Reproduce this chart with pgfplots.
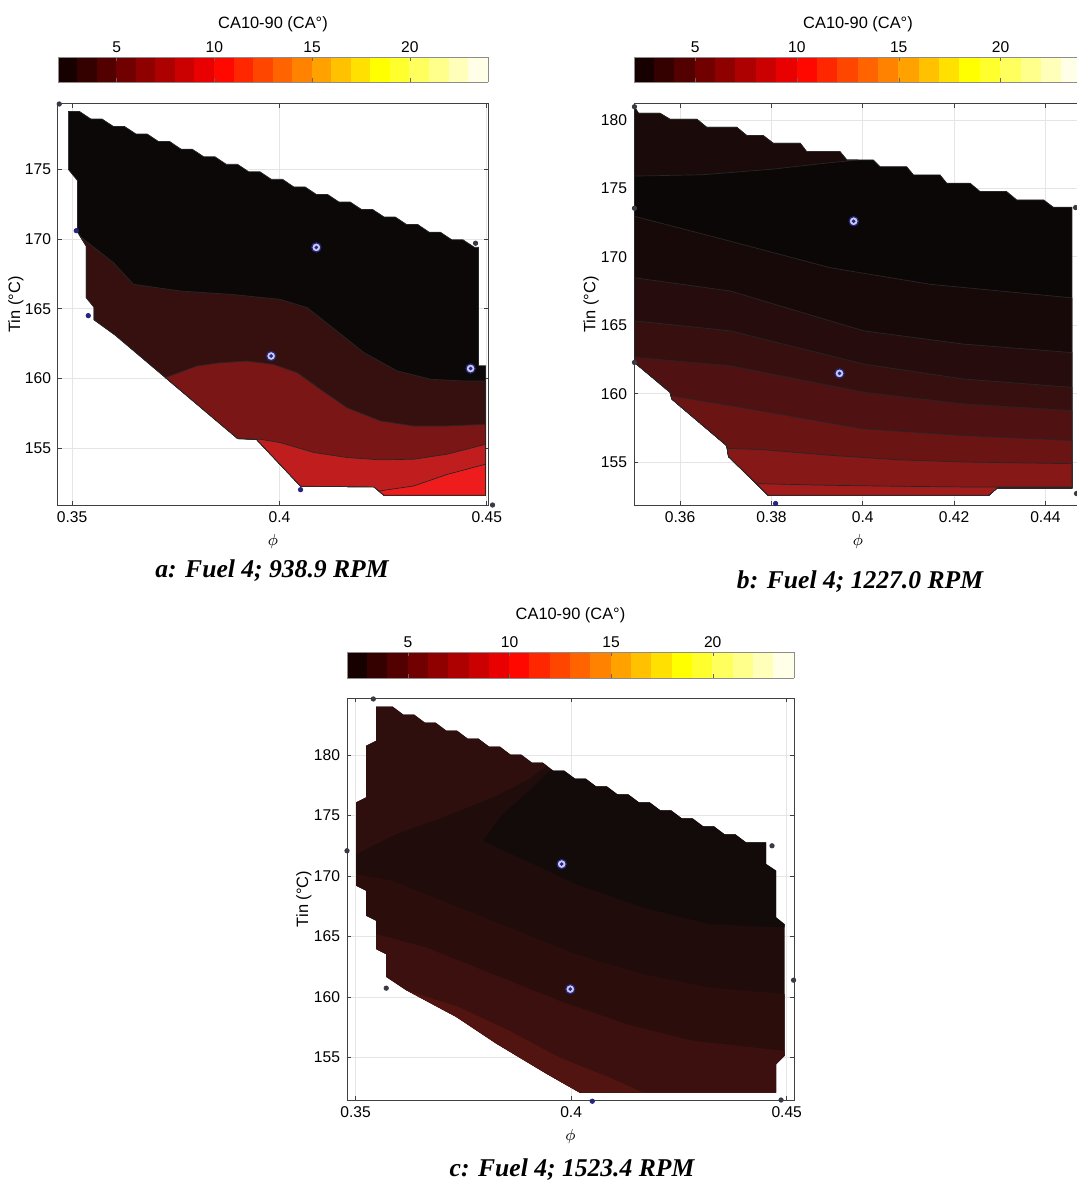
\documentclass[border=0pt]{standalone}
\usepackage{fontspec}
\setmainfont{Liberation Sans}
\newfontfamily\capfont{Liberation Serif}
\usepackage{pgfplots}
\pgfplotsset{compat=1.18}
\pgfplotsset{colormap={mhot}{rgb255(0cm)=(8,0,0); rgb255(3cm)=(255,0,0); rgb255(6cm)=(255,255,0); rgb255(8cm)=(255,255,255)}}
% panel a colours
\definecolor{aK}{HTML}{0C0808}
\definecolor{aA}{HTML}{35100F}
\definecolor{aB}{HTML}{7A1616}
\definecolor{aC}{HTML}{C01E1E}
\definecolor{aD}{HTML}{EE1C1C}
% panel b colours
\definecolor{bK}{HTML}{0B0707}
\definecolor{bT}{HTML}{1A0B0A}
\definecolor{b1}{HTML}{180909}
\definecolor{b2}{HTML}{260C0C}
\definecolor{b3}{HTML}{380F0F}
\definecolor{b4}{HTML}{4F1111}
\definecolor{b5}{HTML}{6A1414}
\definecolor{b6}{HTML}{861818}
\definecolor{b7}{HTML}{A31C1C}
% panel c colours
\definecolor{cM}{HTML}{1F0C0B}
\definecolor{cK}{HTML}{130A0A}
\definecolor{cP}{HTML}{2E0F0D}
\definecolor{c2}{HTML}{2B0D0C}
\definecolor{c3}{HTML}{3B100E}
\definecolor{c4}{HTML}{521410}
% markers
\definecolor{ptblue}{HTML}{26267E}
\definecolor{ptgray}{HTML}{3A3A44}
\definecolor{ptring}{HTML}{CACAEE}
\pgfplotsset{
 panel/.style={
  scale only axis, anchor=north west, clip=false,
  axis line style={draw=black!75, line width=0.5pt},
  tick style={draw=black!75, line width=0.4pt},
  tick align=inside, major tick length=2.2pt,
  xmajorgrids, ymajorgrids,
  major grid style={draw=black!10, line width=0.35pt},
  tick label style={font=\fontsize{7.8}{9}\selectfont},
  label style={font=\fontsize{8.2}{10}\selectfont},
  xlabel={$\phi$}, ylabel={Tin (°C)},
  /pgf/number format/assume math mode=true,
  colorbar horizontal, colormap name=mhot,
  point meta min=2, point meta max=24, colorbar sampled,
 },
 cb/.style n args={3}{colorbar style={
  scale only axis, height=#1,
  at={(parent axis.north west)}, anchor=south west, yshift=#2,
  xtick={5,10,15,20}, xticklabel pos=upper,
  xticklabel style={font=\fontsize{7.8}{9}\selectfont, yshift=-1.5pt},
  xlabel={CA10-90 (CA°)},
  xlabel style={font=\fontsize{8.2}{10}\selectfont, at={(axis description cs:0.5,1)}, anchor=center, yshift=#3},
  axis line style={draw=black!45},
  tick style={draw=black!60},
  major tick length=1.8pt, tick align=inside,
  samples=23,
  /pgf/number format/assume math mode=true,
 }},
 cline/.style={draw=black!85, line width=0.35pt},
 dotb/.style={only marks, mark=*, mark size=1.1pt, mark options={draw=ptblue, fill=ptblue}},
 dotg/.style={only marks, mark=*, mark size=1.1pt, mark options={draw=ptgray, fill=ptgray}},
 ring/.style={only marks, mark=*, mark size=2.3pt, mark options={draw=ptblue, fill=ptring, line width=0.6pt}},
 ringc/.style={only marks, mark=*, mark size=0.7pt, mark options={draw=ptblue, fill=ptblue}},
}
\begin{document}
\begin{tikzpicture}
\useasboundingbox (0pt,0pt) rectangle (538pt,-590.5pt);
% ---------------- panel a ----------------
\begin{axis}[panel, at={(29pt,-52pt)}, width=215pt, height=200.5pt,
 xmin=0.3466, xmax=0.4503, ymin=150.9, ymax=179.7,
 xtick={0.35,0.4,0.45}, xticklabels={0.35,0.4,0.45}, ytick={155,160,165,170,175},
 xlabel style={at={(axis description cs:0.5,-0.092)}, anchor=center},
 ylabel style={at={(axis description cs:-0.0977,0.5)}, anchor=center},
 cb={12.5pt}{19.5pt}{16.5pt}]
\addplot[fill=aK, cline] coordinates {
(0.3491,179.16) (0.3518,179.16) (0.35454,178.62) (0.35724,178.62) (0.35998,178.08) (0.36268,178.08)
(0.36542,177.54) (0.36812,177.54) (0.37086,177.00) (0.37356,177.00) (0.37630,176.45) (0.37900,176.45)
(0.38174,175.91) (0.38444,175.91) (0.38717,175.37) (0.38987,175.37) (0.39261,174.83) (0.39531,174.83)
(0.39805,174.29) (0.40075,174.29) (0.40349,173.74) (0.40619,173.74) (0.40893,173.20) (0.41163,173.20)
(0.41437,172.66) (0.41707,172.66) (0.41981,172.12) (0.42251,172.12) (0.42525,171.58) (0.42795,171.58)
(0.43069,171.04) (0.43339,171.04) (0.43612,170.49) (0.43882,170.49) (0.44156,169.95) (0.44426,169.95)
(0.44700,169.41) (0.4480,169.41) (0.4480,160.9) (0.4497,160.9) (0.4497,151.6) (0.4252,151.6)
(0.4228,152.2) (0.4051,152.25) (0.3945,155.6) (0.3898,155.7) (0.3604,163.1) (0.3553,164.2)
(0.3553,165.1) (0.3534,165.8) (0.3534,169.5) (0.3513,170.5) (0.3513,174.2) (0.3491,175.0)} -- cycle;
\addplot[fill=aA, cline] coordinates {
(0.3520,170.17) (0.3600,168.3) (0.3648,166.75) (0.3761,166.27) (0.3882,166.03) (0.4002,165.67)
(0.4067,165.07) (0.4123,163.76) (0.4204,161.84) (0.4284,160.53) (0.4365,159.93) (0.4450,159.8)
(0.4497,159.8) (0.4497,151.6) (0.4252,151.6) (0.4228,152.2) (0.4051,152.25) (0.3945,155.6)
(0.3898,155.7) (0.3604,163.1) (0.3553,164.2) (0.3553,165.1) (0.3534,165.8) (0.3534,169.5)} -- cycle;
\addplot[fill=aB, cline] coordinates {
(0.3725,160.05) (0.3801,160.89) (0.3857,161.12) (0.3922,161.24) (0.3986,161.0) (0.4043,160.41)
(0.4099,159.21) (0.4163,157.89) (0.4244,156.94) (0.4324,156.58) (0.4405,156.58) (0.4497,156.7)
(0.4497,151.6) (0.4252,151.6) (0.4228,152.2) (0.4051,152.25) (0.3945,155.6) (0.3898,155.7)} -- cycle;
\addplot[fill=aC, cline] coordinates {
(0.3900,155.65) (0.3954,155.62) (0.4002,155.38) (0.4083,154.67) (0.4163,154.31) (0.4244,154.14)
(0.4324,154.19) (0.4405,154.55) (0.4497,155.26) (0.4497,151.6) (0.4252,151.6) (0.4228,152.2)
(0.4051,152.25) (0.3945,155.6)} -- cycle;
\addplot[fill=aD, cline] coordinates {
(0.4240,151.9) (0.4324,152.27) (0.4405,153.1) (0.4497,153.83) (0.4497,151.6) (0.4252,151.6)} -- cycle;
\addplot[dotb] coordinates {(0.3510,170.6) (0.3539,164.5) (0.4051,152.0)};
\addplot[dotg] coordinates {(0.3469,179.7) (0.4473,169.7) (0.4514,150.9)};
\addplot[ring] coordinates {(0.4089,169.4) (0.3980,161.6) (0.4461,160.7)};
\addplot[ringc] coordinates {(0.4089,169.4) (0.3980,161.6) (0.4461,160.7)};
\end{axis}
% ---------------- panel b ----------------
\begin{axis}[panel, at={(317pt,-52pt)}, width=224pt, height=200.5pt,
 xmin=0.3499, xmax=0.4480, ymin=151.86, ymax=181.17,
 xtick={0.36,0.38,0.4,0.42,0.44}, xticklabels={0.36,0.38,0.4,0.42,0.44}, ytick={155,160,165,170,175,180},
 xlabel style={at={(axis description cs:0.5,-0.092)}, anchor=center},
 ylabel style={at={(axis description cs:-0.096,0.5)}, anchor=center},
 cb={12.5pt}{19.5pt}{16.5pt}]
\addplot[fill=bK, cline] coordinates {
(0.3500,180.95) (0.3509,180.49) (0.3556,180.49) (0.3578,180.05) (0.3637,180.05) (0.3658,179.47)
(0.3724,179.47) (0.3746,178.86) (0.3782,178.86) (0.3804,178.30) (0.3863,178.30) (0.3877,177.69)
(0.3950,177.69) (0.3965,177.08) (0.4023,177.08) (0.4038,176.59) (0.4096,176.59) (0.4111,175.99)
(0.4169,175.99) (0.4184,175.38) (0.4235,175.38) (0.4257,174.77) (0.4315,174.77) (0.4337,174.16)
(0.4396,174.16) (0.4417,173.63) (0.4458,173.63) (0.4458,153.1) (0.4294,153.1) (0.4276,152.57)
(0.3793,152.57) (0.3706,155.4) (0.3702,156.2) (0.3582,159.6) (0.3578,160.1) (0.3500,162.28)} -- cycle;
\addplot[fill=bT, cline] coordinates {
(0.3500,175.9) (0.3500,180.95) (0.3509,180.49) (0.3556,180.49) (0.3578,180.05) (0.3637,180.05)
(0.3658,179.47) (0.3724,179.47) (0.3746,178.86) (0.3782,178.86) (0.3804,178.30) (0.3863,178.30)
(0.3877,177.69) (0.3950,177.69) (0.3965,177.08) (0.3990,177.08) (0.3920,176.85) (0.3800,176.4)
(0.3650,176.0)} -- cycle;
\addplot[fill=b1, cline] coordinates {
(0.3500,172.96) (0.3710,171.14) (0.3929,169.2) (0.4148,167.99) (0.4458,167.0)
(0.4458,153.1) (0.4294,153.1) (0.4276,152.57) (0.3793,152.57) (0.3706,155.4) (0.3702,156.2)
(0.3582,159.6) (0.3578,160.1) (0.3500,162.28)} -- cycle;
\addplot[fill=b2, cline] coordinates {
(0.3500,168.47) (0.3710,167.5) (0.3856,166.04) (0.4002,164.59) (0.4221,163.62) (0.4458,163.0)
(0.4458,153.1) (0.4294,153.1) (0.4276,152.57) (0.3793,152.57) (0.3706,155.4) (0.3702,156.2)
(0.3582,159.6) (0.3578,160.1) (0.3500,162.28)} -- cycle;
\addplot[fill=b3, cline] coordinates {
(0.3500,165.32) (0.3710,164.59) (0.3856,163.37) (0.4002,162.16) (0.4221,161.07) (0.4458,160.46)
(0.4458,153.1) (0.4294,153.1) (0.4276,152.57) (0.3793,152.57) (0.3706,155.4) (0.3702,156.2)
(0.3582,159.6) (0.3578,160.1) (0.3500,162.28)} -- cycle;
\addplot[fill=b4, cline] coordinates {
(0.3500,162.65) (0.3710,162.04) (0.3856,161.07) (0.4002,160.10) (0.4221,159.25) (0.4458,158.76)
(0.4458,153.1) (0.4294,153.1) (0.4276,152.57) (0.3793,152.57) (0.3706,155.4) (0.3702,156.2)
(0.3582,159.6) (0.3578,160.1) (0.3500,162.28)} -- cycle;
\addplot[fill=b5, cline] coordinates {
(0.3580,159.85) (0.3710,159.13) (0.3856,158.28) (0.4002,157.43) (0.4221,156.94) (0.4458,156.58)
(0.4458,153.1) (0.4294,153.1) (0.4276,152.57) (0.3793,152.57) (0.3706,155.4) (0.3702,156.2)
(0.3582,159.6)} -- cycle;
\addplot[fill=b6, cline] coordinates {
(0.3703,156.0) (0.3783,155.9) (0.3929,155.49) (0.4075,155.17) (0.4221,155.0) (0.4458,154.88)
(0.4458,153.1) (0.4294,153.1) (0.4276,152.57) (0.3793,152.57) (0.3706,155.4)} -- cycle;
\addplot[fill=b7, cline] coordinates {
(0.3767,153.42) (0.3929,153.30) (0.4075,153.23) (0.4221,153.18) (0.4458,153.18)
(0.4458,153.1) (0.4294,153.1) (0.4276,152.57) (0.3793,152.57)} -- cycle;
\addplot[dotb] coordinates {(0.3809,151.97)};
\addplot[dotg] coordinates {(0.3500,180.97) (0.3500,173.55) (0.3500,162.28) (0.4466,173.6) (0.4468,152.7)};
\addplot[ring] coordinates {(0.3980,172.6) (0.3949,161.48)};
\addplot[ringc] coordinates {(0.3980,172.6) (0.3949,161.48)};
\end{axis}
% ---------------- panel c ----------------
\begin{axis}[panel, at={(173.5pt,-349pt)}, width=223.5pt, height=201pt,
 xmin=0.3480, xmax=0.4517, ymin=151.5, ymax=184.71,
 xtick={0.35,0.4,0.45}, xticklabels={0.35,0.4,0.45}, ytick={155,160,165,170,175,180},
 xlabel style={at={(axis description cs:0.5,-0.0896)}, anchor=center},
 ylabel style={at={(axis description cs:-0.0962,0.5)}, anchor=center},
 cb={13pt}{18.5pt}{18.5pt}]
\addplot[fill=cM, draw=none] coordinates {
(0.35476,183.99) (0.35862,183.99) (0.36109,183.33) (0.36359,183.33) (0.36606,182.67) (0.36856,182.67)
(0.37103,182.01) (0.37353,182.01) (0.37600,181.35) (0.37850,181.35) (0.38097,180.69) (0.38347,180.69)
(0.38593,180.03) (0.38843,180.03) (0.39090,179.37) (0.39340,179.37) (0.39587,178.71) (0.39837,178.71)
(0.40084,178.06) (0.40334,178.06) (0.40581,177.40) (0.40831,177.40) (0.41078,176.74) (0.41328,176.74)
(0.41575,176.08) (0.41825,176.08) (0.42072,175.42) (0.42322,175.42) (0.42569,174.76) (0.42819,174.76)
(0.43066,174.10) (0.43316,174.10) (0.43562,173.44) (0.43812,173.44) (0.44059,172.78) (0.44524,172.78)
(0.44524,170.99) (0.44756,170.44) (0.44756,166.58) (0.44950,166.03) (0.44950,155.15) (0.44756,154.46)
(0.44756,152.12) (0.40193,152.12) (0.39420,153.69) (0.38260,156.17) (0.37332,158.37) (0.36172,160.58)
(0.35708,161.68) (0.35708,163.55) (0.35476,163.97) (0.35476,166.31) (0.35244,166.72) (0.35244,168.79)
(0.35012,169.20) (0.35012,176.09) (0.35244,176.50) (0.35244,180.77) (0.35476,181.18)} -- cycle;
\addplot[fill=cK, draw=none] coordinates {
(0.39587,178.71) (0.39837,178.71) (0.40084,178.06) (0.40334,178.06) (0.40581,177.40) (0.40831,177.40)
(0.41078,176.74) (0.41328,176.74) (0.41575,176.08) (0.41825,176.08) (0.42072,175.42) (0.42322,175.42)
(0.42569,174.76) (0.42819,174.76) (0.43066,174.10) (0.43316,174.10) (0.43562,173.44) (0.43812,173.44)
(0.44059,172.78) (0.44524,172.78) (0.44524,170.99) (0.44756,170.44) (0.44756,166.58) (0.44950,166.03)
(0.44950,165.76) (0.43210,166.03) (0.41663,167.41) (0.40116,169.34) (0.38956,171.27) (0.37951,172.92)
(0.38415,175.12) (0.39033,177.05) (0.39497,178.71)} -- cycle;
\addplot[fill=cP, draw=none] coordinates {
(0.35012,171.82) (0.35012,176.09) (0.35244,176.50) (0.35244,180.77) (0.35476,181.18) (0.35476,183.99)
(0.35862,183.99) (0.36109,183.33) (0.36359,183.33) (0.36606,182.67) (0.36856,182.67) (0.37103,182.01)
(0.37353,182.01) (0.37600,181.35) (0.37850,181.35) (0.38097,180.69) (0.38347,180.69) (0.38593,180.03)
(0.38843,180.03) (0.39090,179.37) (0.39340,179.37) (0.39434,179.12) (0.39033,178.02) (0.38183,176.50)
(0.37022,174.85) (0.35940,173.47)} -- cycle;
\addplot[fill=c2, draw=none] coordinates {
(0.35012,170.17) (0.35862,169.61) (0.37022,167.96) (0.38569,165.76) (0.40116,163.55) (0.41663,161.90)
(0.43210,160.80) (0.44950,160.25) (0.44950,155.15) (0.44756,154.46) (0.44756,152.12) (0.40193,152.12)
(0.39420,153.69) (0.38260,156.17) (0.37332,158.37) (0.36172,160.58) (0.35708,161.68) (0.35708,163.55)
(0.35476,163.97) (0.35476,166.31) (0.35244,166.72) (0.35244,168.79) (0.35012,169.20)} -- cycle;
\addplot[fill=c3, draw=none] coordinates {
(0.35476,165.21) (0.36636,164.10) (0.38183,161.90) (0.39729,159.70) (0.41276,157.77) (0.42823,156.39)
(0.44950,155.56) (0.44950,155.15) (0.44756,154.46) (0.44756,152.12) (0.40193,152.12) (0.39420,153.69)
(0.38260,156.17) (0.37332,158.37) (0.36172,160.58) (0.35708,161.68) (0.35708,163.55) (0.35476,163.97)} -- cycle;
\addplot[fill=c4, draw=none] coordinates {
(0.36172,160.58) (0.37409,159.15) (0.38569,157.22) (0.39729,155.01) (0.40889,153.36) (0.41663,152.12)
(0.40193,152.12) (0.39420,153.69) (0.38260,156.17) (0.37332,158.37)} -- cycle;
\addplot[dotb] coordinates {(0.4049,151.4)};
\addplot[dotg] coordinates {(0.3541,184.63) (0.3480,172.09) (0.4466,172.5) (0.3571,160.74) (0.4516,161.4) (0.4487,151.5)};
\addplot[ring] coordinates {(0.3978,170.99) (0.3998,160.66)};
\addplot[ringc] coordinates {(0.3978,170.99) (0.3998,160.66)};
\end{axis}
% ---------------- captions ----------------
\node[anchor=base] at (136pt,-288.5pt) {\capfont\bfseries\itshape\fontsize{12.8}{15}\selectfont a: Fuel 4; 938.9 RPM};
\node[anchor=base] at (430pt,-294pt) {\capfont\bfseries\itshape\fontsize{12.8}{15}\selectfont b: Fuel 4; 1227.0 RPM};
\node[anchor=base] at (286pt,-588pt) {\capfont\bfseries\itshape\fontsize{12.8}{15}\selectfont c: Fuel 4; 1523.4 RPM};
\end{tikzpicture}
\end{document}
